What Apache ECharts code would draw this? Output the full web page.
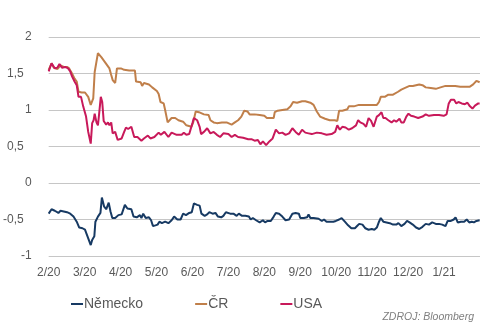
<!DOCTYPE html>
<html><head><meta charset="utf-8">
<script src="https://cdn.jsdelivr.net/npm/echarts@6/dist/echarts.min.js"></script>
<style>html,body{margin:0;padding:0;background:#fff}#c{width:496px;height:325px}</style>
</head><body><div id="c"></div>
<script>
const monthLabels = ['2/20','3/20','4/20','5/20','6/20','7/20','8/20','9/20','10/20','11/20','12/20','1/21'];
const seriesNames = ['Německo','ČR','USA'];

const deX = [0,0.08,0.17,0.27,0.33,0.42,0.51,0.60,0.69,0.78,0.85,0.94,1.01,1.08,1.17,1.21,1.27,1.30,1.37,1.44,1.48,1.54,1.60,1.67,1.72,1.77,1.85,1.94,2.03,2.08,2.12,2.19,2.30,2.36,2.45,2.54,2.58,2.63,2.70,2.79,2.85,2.90,2.97,3.03,3.08,3.15,3.24,3.33,3.42,3.49,3.58,3.67,3.74,3.82,3.91,3.98,4.04,4.13,4.20,4.25,4.34,4.41,4.47,4.56,4.64,4.71,4.80,4.86,4.93,5.05,5.14,5.23,5.29,5.38,5.47,5.57,5.62,5.68,5.77,5.87,5.96,6.02,6.09,6.18,6.26,6.32,6.41,6.50,6.59,6.69,6.78,6.87,6.96,7.00,7.10,7.19,7.23,7.28,7.37,7.51,7.60,7.66,7.73,7.82,7.92,7.99,8.08,8.15,8.24,8.33,8.42,8.52,8.58,8.64,8.73,8.81,8.90,8.99,9.06,9.13,9.19,9.24,9.31,9.40,9.49,9.58,9.67,9.73,9.81,9.90,9.97,10.04,10.13,10.22,10.31,10.40,10.49,10.58,10.67,10.77,10.86,10.95,11.04,11.10,11.19,11.27,11.32,11.38,11.47,11.56,11.63,11.70,11.77,11.83,11.90,11.99];
const deY = [-0.42,-0.36,-0.38,-0.41,-0.38,-0.39,-0.40,-0.42,-0.46,-0.53,-0.61,-0.62,-0.64,-0.73,-0.85,-0.78,-0.73,-0.53,-0.46,-0.41,-0.20,-0.32,-0.36,-0.27,-0.39,-0.48,-0.48,-0.44,-0.43,-0.42,-0.30,-0.35,-0.36,-0.46,-0.47,-0.44,-0.48,-0.42,-0.48,-0.47,-0.51,-0.59,-0.58,-0.57,-0.53,-0.55,-0.53,-0.55,-0.51,-0.46,-0.50,-0.50,-0.42,-0.44,-0.41,-0.40,-0.28,-0.30,-0.31,-0.42,-0.45,-0.43,-0.40,-0.42,-0.41,-0.46,-0.47,-0.45,-0.40,-0.42,-0.42,-0.45,-0.42,-0.45,-0.45,-0.46,-0.50,-0.48,-0.51,-0.54,-0.51,-0.54,-0.52,-0.52,-0.46,-0.41,-0.42,-0.46,-0.51,-0.50,-0.42,-0.41,-0.42,-0.48,-0.48,-0.47,-0.43,-0.48,-0.48,-0.49,-0.52,-0.50,-0.53,-0.53,-0.53,-0.52,-0.50,-0.48,-0.53,-0.58,-0.62,-0.62,-0.59,-0.56,-0.57,-0.62,-0.64,-0.63,-0.64,-0.61,-0.53,-0.48,-0.53,-0.54,-0.55,-0.57,-0.57,-0.55,-0.59,-0.56,-0.52,-0.54,-0.57,-0.61,-0.63,-0.60,-0.56,-0.57,-0.54,-0.56,-0.56,-0.57,-0.59,-0.52,-0.52,-0.50,-0.47,-0.54,-0.53,-0.53,-0.50,-0.54,-0.53,-0.54,-0.52,-0.51];

const czX = [0,0.08,0.14,0.24,0.33,0.42,0.51,0.57,0.65,0.72,0.78,0.83,0.92,1.01,1.06,1.10,1.17,1.24,1.28,1.37,1.47,1.56,1.69,1.74,1.78,1.85,1.90,2.01,2.10,2.24,2.40,2.43,2.56,2.60,2.65,2.79,2.88,3.01,3.06,3.11,3.20,3.24,3.31,3.42,3.52,3.61,3.74,3.83,3.97,4.02,4.09,4.18,4.32,4.45,4.50,4.59,4.68,4.82,4.95,5.09,5.18,5.27,5.36,5.44,5.53,5.59,5.73,5.87,6.00,6.07,6.18,6.26,6.29,6.37,6.50,6.64,6.73,6.80,6.91,7.05,7.14,7.28,7.37,7.46,7.55,7.69,7.82,7.96,8.03,8.08,8.17,8.31,8.35,8.49,8.63,8.81,8.99,9.13,9.19,9.24,9.35,9.45,9.58,9.72,9.81,9.90,10.04,10.13,10.22,10.31,10.40,10.49,10.63,10.77,10.90,11.04,11.17,11.31,11.45,11.58,11.72,11.81,11.90,11.99];
const czY = [1.55,1.64,1.58,1.56,1.61,1.59,1.59,1.57,1.50,1.43,1.39,1.25,1.24,1.24,1.25,1.18,1.07,1.16,1.52,1.78,1.72,1.66,1.57,1.48,1.41,1.37,1.57,1.57,1.55,1.54,1.54,1.39,1.38,1.33,1.37,1.35,1.31,1.26,1.22,1.11,1.09,1.00,0.83,0.89,0.89,0.86,0.84,0.79,0.77,0.83,0.98,0.97,0.94,0.93,0.86,0.83,0.82,0.83,0.83,0.80,0.83,0.86,0.91,0.99,0.98,0.94,0.94,0.93,0.92,0.89,0.89,0.89,0.97,0.99,1.00,1.01,1.05,1.11,1.10,1.12,1.12,1.10,1.07,0.98,0.91,0.88,0.86,0.86,0.85,0.99,0.99,1.01,1.05,1.05,1.07,1.07,1.07,1.07,1.11,1.18,1.18,1.21,1.21,1.25,1.28,1.30,1.33,1.33,1.34,1.35,1.34,1.31,1.30,1.29,1.31,1.33,1.33,1.33,1.32,1.32,1.32,1.35,1.40,1.38];

const usX = [0,0.08,0.17,0.24,0.30,0.37,0.46,0.54,0.60,0.65,0.72,0.78,0.83,0.90,0.96,1.04,1.10,1.17,1.21,1.25,1.28,1.33,1.37,1.40,1.45,1.49,1.53,1.60,1.65,1.69,1.74,1.78,1.85,1.92,2.03,2.10,2.15,2.21,2.30,2.38,2.47,2.58,2.65,2.76,2.83,2.94,3.06,3.12,3.22,3.33,3.42,3.56,3.70,3.76,3.83,3.91,4.00,4.04,4.13,4.20,4.24,4.32,4.41,4.50,4.59,4.68,4.77,4.86,5.00,5.09,5.18,5.27,5.41,5.55,5.64,5.73,5.82,5.89,5.96,6.05,6.14,6.23,6.32,6.41,6.50,6.59,6.69,6.78,6.87,6.96,7.05,7.14,7.23,7.32,7.46,7.60,7.73,7.87,7.97,8.03,8.10,8.17,8.26,8.35,8.44,8.55,8.61,8.67,8.76,8.83,8.90,8.97,9.04,9.13,9.19,9.26,9.31,9.37,9.45,9.54,9.61,9.67,9.76,9.81,9.88,9.95,10.01,10.08,10.17,10.28,10.40,10.49,10.58,10.72,10.86,10.99,11.07,11.13,11.19,11.28,11.34,11.40,11.49,11.58,11.65,11.72,11.79,11.86,11.95,11.99];
const usY = [1.53,1.64,1.57,1.58,1.63,1.58,1.59,1.57,1.53,1.46,1.39,1.34,1.18,1.18,1.05,0.91,0.70,0.54,0.82,0.86,0.95,0.83,0.79,0.93,1.18,1.11,0.85,0.80,0.83,0.79,0.83,0.68,0.70,0.59,0.61,0.70,0.76,0.74,0.77,0.63,0.63,0.58,0.61,0.65,0.61,0.63,0.69,0.66,0.70,0.63,0.69,0.66,0.66,0.69,0.66,0.67,0.82,0.89,0.86,0.77,0.67,0.70,0.75,0.68,0.70,0.66,0.63,0.68,0.67,0.63,0.66,0.63,0.62,0.60,0.60,0.58,0.59,0.53,0.57,0.52,0.57,0.61,0.73,0.68,0.69,0.66,0.68,0.75,0.70,0.66,0.73,0.69,0.68,0.67,0.69,0.68,0.66,0.67,0.70,0.79,0.73,0.77,0.76,0.73,0.75,0.79,0.86,0.83,0.81,0.77,0.89,0.85,0.77,0.91,0.93,0.97,0.89,0.89,0.86,0.83,0.86,0.84,0.88,0.83,0.83,0.91,0.95,0.92,0.91,0.89,0.91,0.94,0.92,0.93,0.93,0.92,0.94,1.09,1.14,1.14,1.09,1.11,1.09,1.08,1.10,1.05,1.02,1.06,1.09,1.09];

const colors = ['#173a63','#c07f4a','#c8195a'];
const pairs = (xs, ys) => xs.map((x, i) => [x, ys[i]]);
const mk = (name, xs, ys, c) => ({
  name, type: 'line', data: pairs(xs, ys), showSymbol: false, symbol: 'none',
  lineStyle: { width: 2, color: c }, itemStyle: { color: c }, animation: false
});

const chart = echarts.init(document.getElementById('c'), null, { renderer: 'canvas' });
chart.setOption({
  animation: false,
  grid: { left: 41, right: 16, top: 37, bottom: 69 },
  xAxis: {
    type: 'value', min: 0, max: 12, interval: 1,
    axisLine: { show: false }, axisTick: { show: false }, splitLine: { show: false },
    axisLabel: {
      color: '#595959', fontSize: 12, fontFamily: 'Liberation Sans, Arial, sans-serif', margin: 11,
      showMaxLabel: false,
      formatter: v => monthLabels[Math.round(v)] || ''
    }
  },
  yAxis: {
    type: 'value', min: -1, max: 2, interval: 0.5,
    axisLine: { show: false }, axisTick: { show: false },
    splitLine: { lineStyle: { color: '#c6c6c6', width: 1 } },
    axisLabel: {
      color: '#595959', fontSize: 12, fontFamily: 'Liberation Sans, Arial, sans-serif', margin: 17,
      formatter: v => Number.isInteger(v) ? String(v) : '{d|' + String(v).replace('.', ',') + '}',
      rich: { d: { color: '#595959', fontSize: 12, fontFamily: 'Liberation Sans, Arial, sans-serif', padding: [0, 8, 0, 0] } }
    }
  },
  legend: {
    left: 66, top: 292, itemGap: 52, itemWidth: 12, itemHeight: 2, icon: 'rect',
    textStyle: { color: '#595959', fontSize: 14, fontFamily: 'Liberation Sans, Arial, sans-serif', padding: [0, 0, 0, -4] },
    data: seriesNames
  },
  graphic: [{
    type: 'text', right: 22, top: 312,
    style: { text: 'ZDROJ: Bloomberg', fill: '#7f7f7f', font: 'italic 10.5px "Liberation Sans", Arial, sans-serif' }
  }],
  series: [
    mk(seriesNames[0], deX, deY, colors[0]),
    mk(seriesNames[1], czX, czY, colors[1]),
    mk(seriesNames[2], usX, usY, colors[2])
  ]
});
</script></body></html>
